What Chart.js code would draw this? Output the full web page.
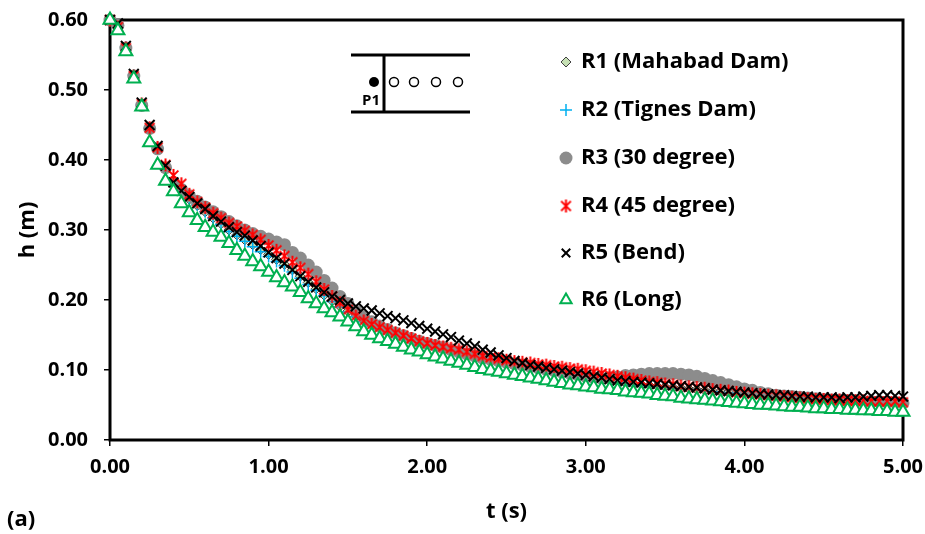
<!DOCTYPE html>
<html>
<head>
<meta charset="utf-8">
<script src="https://cdn.jsdelivr.net/npm/chart.js@4.4.0/dist/chart.umd.min.js"></script>
<style>
html, body { margin: 0; padding: 0; background: #fff; }
#wrap { width: 925px; height: 534px; position: relative; }
</style>
</head>
<body>
<div id="wrap"><canvas id="chart"></canvas></div>
<script>
// time steps (s)
const times = [0, 0.05, 0.1, 0.15, 0.2, 0.25, 0.3, 0.35, 0.4, 0.45,
  0.5, 0.55, 0.6, 0.65, 0.7, 0.75, 0.8, 0.85, 0.9, 0.95,
  1.0, 1.05, 1.1, 1.15, 1.2, 1.25, 1.3, 1.35, 1.4, 1.45,
  1.5, 1.55, 1.6, 1.65, 1.7, 1.75, 1.8, 1.85, 1.9, 1.95,
  2.0, 2.05, 2.1, 2.15, 2.2, 2.25, 2.3, 2.35, 2.4, 2.45,
  2.5, 2.55, 2.6, 2.65, 2.7, 2.75, 2.8, 2.85, 2.9, 2.95,
  3.0, 3.05, 3.1, 3.15, 3.2, 3.25, 3.3, 3.35, 3.4, 3.45,
  3.5, 3.55, 3.6, 3.65, 3.7, 3.75, 3.8, 3.85, 3.9, 3.95,
  4.0, 4.05, 4.1, 4.15, 4.2, 4.25, 4.3, 4.35, 4.4, 4.45,
  4.5, 4.55, 4.6, 4.65, 4.7, 4.75, 4.8, 4.85, 4.9, 4.95, 5.0];

// h (m) for each run
const r1Mahabad = [0.600, 0.593, 0.561, 0.520, 0.478, 0.446, 0.417, 0.389, 0.366, 0.354,
  0.344, 0.335, 0.326, 0.317, 0.309, 0.300, 0.293, 0.286, 0.279, 0.272,
  0.265, 0.258, 0.251, 0.243, 0.234, 0.225, 0.216, 0.207, 0.199, 0.191,
  0.184, 0.177, 0.170, 0.164, 0.159, 0.154, 0.150, 0.146, 0.142, 0.138,
  0.135, 0.132, 0.129, 0.126, 0.123, 0.120, 0.117, 0.114, 0.112, 0.110,
  0.108, 0.106, 0.104, 0.102, 0.100, 0.098, 0.096, 0.094, 0.092, 0.090,
  0.089, 0.087, 0.086, 0.084, 0.083, 0.082, 0.080, 0.079, 0.078, 0.077,
  0.076, 0.075, 0.074, 0.073, 0.072, 0.071, 0.070, 0.069, 0.068, 0.067,
  0.066, 0.065, 0.064, 0.063, 0.062, 0.062, 0.061, 0.060, 0.059, 0.059,
  0.058, 0.058, 0.057, 0.057, 0.056, 0.056, 0.055, 0.055, 0.054, 0.054, 0.054];

const r2Tignes = [0.600, 0.592, 0.561, 0.521, 0.479, 0.446, 0.418, 0.389, 0.366, 0.354,
  0.345, 0.336, 0.326, 0.317, 0.308, 0.298, 0.291, 0.284, 0.276, 0.269,
  0.262, 0.255, 0.249, 0.240, 0.231, 0.222, 0.214, 0.206, 0.198, 0.190,
  0.183, 0.176, 0.169, 0.163, 0.158, 0.153, 0.149, 0.145, 0.141, 0.137,
  0.134, 0.131, 0.128, 0.125, 0.122, 0.119, 0.116, 0.113, 0.111, 0.109,
  0.107, 0.105, 0.103, 0.101, 0.099, 0.097, 0.095, 0.093, 0.091, 0.089,
  0.088, 0.086, 0.085, 0.083, 0.082, 0.081, 0.079, 0.078, 0.077, 0.076,
  0.075, 0.074, 0.073, 0.072, 0.071, 0.070, 0.069, 0.068, 0.067, 0.066,
  0.065, 0.064, 0.063, 0.062, 0.061, 0.061, 0.060, 0.059, 0.058, 0.058,
  0.057, 0.057, 0.056, 0.056, 0.055, 0.055, 0.054, 0.054, 0.053, 0.053, 0.053];

const r3Deg30 = [0.600, 0.592, 0.560, 0.520, 0.478, 0.445, 0.416, 0.389, 0.368, 0.358,
  0.349, 0.341, 0.333, 0.326, 0.319, 0.312, 0.306, 0.300, 0.295, 0.291,
  0.287, 0.283, 0.279, 0.268, 0.260, 0.250, 0.240, 0.228, 0.217, 0.205,
  0.195, 0.184, 0.176, 0.169, 0.163, 0.158, 0.153, 0.149, 0.145, 0.141,
  0.138, 0.135, 0.132, 0.129, 0.126, 0.123, 0.120, 0.117, 0.115, 0.113,
  0.111, 0.109, 0.107, 0.105, 0.103, 0.101, 0.099, 0.097, 0.095, 0.093,
  0.091, 0.089, 0.088, 0.089, 0.090, 0.092, 0.093, 0.094, 0.095, 0.095,
  0.095, 0.095, 0.094, 0.093, 0.091, 0.088, 0.085, 0.082, 0.079, 0.076,
  0.073, 0.071, 0.068, 0.066, 0.064, 0.063, 0.062, 0.061, 0.060, 0.059,
  0.058, 0.057, 0.057, 0.056, 0.056, 0.055, 0.055, 0.055, 0.054, 0.054, 0.053];

const r4Deg45 = [0.600, 0.590, 0.560, 0.520, 0.480, 0.446, 0.418, 0.393, 0.378, 0.366,
  0.351, 0.340, 0.332, 0.324, 0.317, 0.310, 0.305, 0.299, 0.293, 0.286,
  0.278, 0.271, 0.263, 0.254, 0.246, 0.237, 0.226, 0.215, 0.205, 0.196,
  0.186, 0.177, 0.170, 0.165, 0.161, 0.157, 0.153, 0.149, 0.145, 0.141,
  0.138, 0.135, 0.133, 0.131, 0.129, 0.126, 0.123, 0.120, 0.118, 0.116,
  0.114, 0.112, 0.111, 0.110, 0.108, 0.107, 0.105, 0.104, 0.102, 0.101,
  0.099, 0.097, 0.095, 0.093, 0.091, 0.089, 0.087, 0.085, 0.083, 0.082,
  0.080, 0.079, 0.077, 0.076, 0.075, 0.074, 0.072, 0.071, 0.070, 0.068,
  0.067, 0.066, 0.065, 0.064, 0.063, 0.062, 0.061, 0.060, 0.059, 0.058,
  0.058, 0.057, 0.057, 0.056, 0.056, 0.056, 0.055, 0.055, 0.055, 0.055, 0.054];

const r5Bend = [0.600, 0.595, 0.563, 0.523, 0.482, 0.450, 0.420, 0.392, 0.368, 0.356,
  0.347, 0.338, 0.330, 0.320, 0.312, 0.304, 0.297, 0.292, 0.285, 0.277,
  0.268, 0.260, 0.252, 0.243, 0.234, 0.226, 0.218, 0.211, 0.205, 0.200,
  0.195, 0.191, 0.188, 0.185, 0.181, 0.177, 0.174, 0.171, 0.167, 0.163,
  0.159, 0.155, 0.151, 0.147, 0.142, 0.138, 0.134, 0.129, 0.125, 0.121,
  0.117, 0.113, 0.110, 0.107, 0.105, 0.103, 0.101, 0.099, 0.097, 0.095,
  0.093, 0.091, 0.089, 0.087, 0.085, 0.084, 0.083, 0.082, 0.081, 0.080,
  0.079, 0.078, 0.077, 0.076, 0.075, 0.074, 0.072, 0.071, 0.070, 0.069,
  0.068, 0.067, 0.066, 0.065, 0.064, 0.064, 0.063, 0.062, 0.062, 0.061,
  0.061, 0.061, 0.060, 0.061, 0.061, 0.062, 0.063, 0.064, 0.064, 0.063, 0.062];

const r6Long = [0.600, 0.585, 0.555, 0.516, 0.476, 0.425, 0.393, 0.370, 0.355, 0.338,
  0.325, 0.314, 0.304, 0.297, 0.290, 0.281, 0.271, 0.263, 0.255, 0.248,
  0.240, 0.232, 0.225, 0.219, 0.211, 0.202, 0.195, 0.188, 0.182, 0.176,
  0.169, 0.162, 0.155, 0.150, 0.145, 0.141, 0.137, 0.133, 0.129, 0.126,
  0.122, 0.119, 0.116, 0.113, 0.110, 0.107, 0.104, 0.101, 0.099, 0.097,
  0.095, 0.093, 0.091, 0.089, 0.087, 0.085, 0.083, 0.081, 0.079, 0.078,
  0.076, 0.075, 0.073, 0.072, 0.071, 0.069, 0.068, 0.067, 0.066, 0.064,
  0.063, 0.062, 0.060, 0.059, 0.058, 0.057, 0.056, 0.055, 0.054, 0.053,
  0.052, 0.051, 0.050, 0.050, 0.049, 0.048, 0.047, 0.047, 0.046, 0.045,
  0.045, 0.044, 0.044, 0.043, 0.043, 0.042, 0.042, 0.041, 0.041, 0.040, 0.040];

const seriesNames = ['R1 (Mahabad Dam)', 'R2 (Tignes Dam)', 'R3 (30 degree)', 'R4 (45 degree)', 'R5 (Bend)', 'R6 (Long)'];
const seriesValues = [r1Mahabad, r2Tignes, r3Deg30, r4Deg45, r5Bend, r6Long];

const FONT = '"Open Sans", "DejaVu Sans", sans-serif';

// red asterisk marker (x with a vertical bar), as drawn by the spreadsheet
function makeAsterisk(size, color) {
    const c = document.createElement('canvas');
    c.width = size; c.height = size;
    const g = c.getContext('2d');
    const m = size / 2, r = size / 2 - 1, d = r * 0.75;
    g.strokeStyle = color; g.lineWidth = 2;
    g.beginPath();
    g.moveTo(m - d, m - d); g.lineTo(m + d, m + d);
    g.moveTo(m + d, m - d); g.lineTo(m - d, m + d);
    g.moveTo(m, m - r); g.lineTo(m, m + r);
    g.stroke();
    return c;
}
const asterisk = makeAsterisk(15, '#ff0000');

const styles = [
    { pointStyle: 'rectRot', radius: 5, backgroundColor: '#c6e0b4', borderColor: '#404040', borderWidth: 1 },
    { pointStyle: 'cross', radius: 6, backgroundColor: '#00b0f0', borderColor: '#00b0f0', borderWidth: 1.5 },
    { pointStyle: 'circle', radius: 6.5, backgroundColor: '#8c8c8c', borderColor: '#8c8c8c', borderWidth: 0 },
    { pointStyle: asterisk, radius: 7, backgroundColor: '#ff0000', borderColor: '#ff0000', borderWidth: 2 },
    { pointStyle: 'crossRot', radius: 7, backgroundColor: '#000', borderColor: '#000', borderWidth: 2 },
    { pointStyle: 'triangle', radius: 7.5, backgroundColor: '#fff', borderColor: '#00b050', borderWidth: 2 }
];

const datasets = seriesNames.map((name, i) => ({
    label: name,
    data: times.map((t, k) => ({ x: t, y: seriesValues[i][k] })),
    showLine: false,
    pointStyle: styles[i].pointStyle,
    pointRadius: styles[i].radius,
    pointHoverRadius: styles[i].radius,
    pointBackgroundColor: styles[i].backgroundColor,
    pointBorderColor: styles[i].borderColor,
    pointBorderWidth: styles[i].borderWidth,
    order: 6 - i,   // later runs drawn on top
    clip: false
}));

const framePlugin = {
    id: 'frame',
    beforeDatasetsDraw(chart) {
        const { ctx, chartArea: a } = chart;
        ctx.save();
        ctx.strokeStyle = '#000'; ctx.lineWidth = 3;
        ctx.strokeRect(a.left, a.top, a.right - a.left, a.bottom - a.top);
        ctx.restore();
    }
};

const extrasPlugin = {
    id: 'extras',
    afterDraw(chart) {
        const ctx = chart.ctx;
        ctx.save();
        // sketch of the channel with the gauge points
        ctx.strokeStyle = '#000'; ctx.lineWidth = 3;
        ctx.beginPath();
        ctx.moveTo(351, 55); ctx.lineTo(470, 55);
        ctx.moveTo(351, 112); ctx.lineTo(470, 112);
        ctx.moveTo(384, 55); ctx.lineTo(384, 112);
        ctx.stroke();
        ctx.fillStyle = '#000';
        ctx.beginPath(); ctx.arc(374, 82, 5, 0, Math.PI * 2); ctx.fill();
        ctx.lineWidth = 1.5;
        [394, 414, 436, 458].forEach(x => {
            ctx.beginPath(); ctx.arc(x, 82, 4.5, 0, Math.PI * 2); ctx.stroke();
        });
        ctx.font = 'bold 15px ' + FONT;
        ctx.textAlign = 'center'; ctx.textBaseline = 'middle';
        ctx.fillText('P1', 371, 101);

        // legend
        const rowY = [62, 110, 158, 206, 253, 300];
        const helpers = Chart.helpers;
        seriesNames.forEach((name, i) => {
            const s = styles[i];
            ctx.fillStyle = s.backgroundColor; ctx.strokeStyle = s.borderColor;
            ctx.lineWidth = s.borderWidth;
            const r = i === 5 ? 6.5 : (i === 3 || i === 4 ? 6 : s.radius);
            helpers.drawPoint(ctx, { pointStyle: s.pointStyle, radius: r, borderWidth: s.borderWidth, rotation: 0 }, 566, rowY[i]);
            ctx.fillStyle = '#000';
            ctx.font = 'bold 22px ' + FONT;
            ctx.textAlign = 'left'; ctx.textBaseline = 'middle';
            ctx.fillText(name, 581, rowY[i]);
        });

        // panel tag
        ctx.font = 'bold 22px ' + FONT;
        ctx.textAlign = 'left'; ctx.textBaseline = 'middle';
        ctx.fillText('(a)', 7, 520);
        ctx.restore();
    }
};

new Chart(document.getElementById('chart'), {
    type: 'scatter',
    data: { datasets },
    options: {
        responsive: true, maintainAspectRatio: false, animation: false,
        layout: { padding: { top: 20, right: 22, left: 0, bottom: 0 } },
        plugins: { legend: { display: false }, tooltip: { enabled: false } },
        scales: {
            x: {
                type: 'linear', min: 0, max: 5,
                afterFit: s => { s.height = 94; s.paddingLeft = 0; s.paddingRight = 0; },
                ticks: { stepSize: 1, padding: 9, color: '#000', font: { family: FONT, size: 20, weight: 'bold' },
                    callback: v => v.toFixed(2) },
                grid: { drawOnChartArea: false, drawTicks: true, tickLength: 6, color: '#000', lineWidth: 1.5 },
                border: { display: false },
                title: { display: true, text: 't (s)', color: '#000', font: { family: FONT, size: 22, weight: 'bold' }, padding: { top: 0, bottom: 9 } }
            },
            y: {
                type: 'linear', min: 0, max: 0.6,
                afterFit: s => { s.width = 110; s.paddingTop = 0; s.paddingBottom = 0; },
                ticks: { stepSize: 0.1, padding: 16, color: '#000', font: { family: FONT, size: 20, weight: 'bold' },
                    callback: v => v.toFixed(2) },
                grid: { drawOnChartArea: false, drawTicks: true, tickLength: 6, color: '#000', lineWidth: 1.5 },
                border: { display: false },
                title: { display: true, text: 'h (m)', color: '#000', font: { family: FONT, size: 22, weight: 'bold' }, padding: { top: 15, bottom: 0 } }
            }
        }
    },
    plugins: [framePlugin, extrasPlugin]
});
</script>
</body>
</html>
